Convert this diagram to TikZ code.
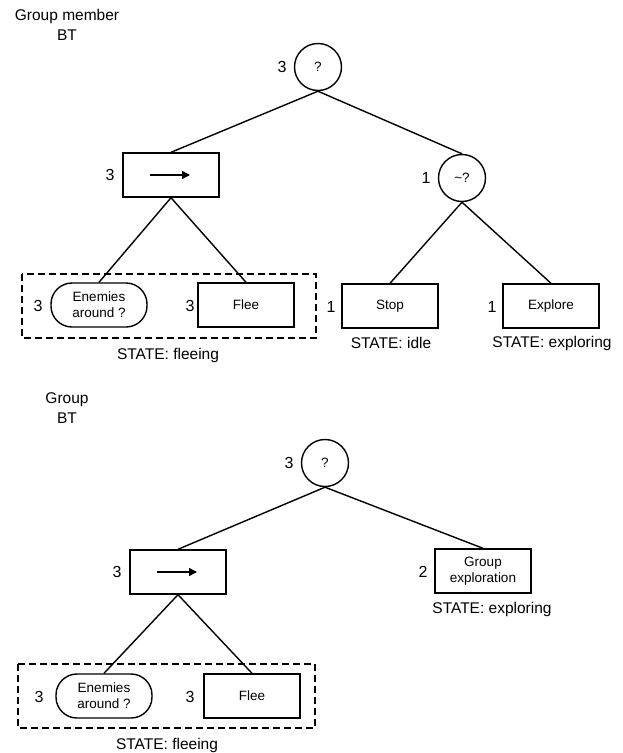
\documentclass[tikz,border=0pt]{standalone}
\usepackage{fontspec}
\setmainfont{Liberation Sans}
\usetikzlibrary{arrows.meta}

\tikzset{
  sel/.style={draw, circle, line width=1.4pt, minimum size=47pt, inner sep=0pt, font=\fontsize{13.5}{16}\selectfont},
  act/.style={draw, rectangle, line width=1.4pt, minimum width=96pt, minimum height=44pt, inner sep=0pt, align=center, font=\fontsize{13.5}{16}\selectfont},
  cnd/.style={act, rounded corners=21pt},
  prio/.style={font=\fontsize{16}{18}\selectfont, inner sep=0pt},
  state/.style={font=\fontsize{15.5}{18}\selectfont, inner sep=0pt},
  edge/.style={line width=1.4pt},
  grp/.style={draw, line width=1.2pt, dash pattern=on 7pt off 4pt}
}

\begin{document}
\begin{tikzpicture}[x=1pt, y=-1pt]
    \useasboundingbox (0,0) rectangle (622,753);

    % Group member tree
    \node [state, align=center] (titleA) at (67,25) {Group member\\[2pt]BT};
    \node [sel] (rootA) at (318,67) {?};
    \node [prio] (lrootA) at (282,67) {3};
    \node [act] (seqA) at (171,175) {};
    \node [prio] (lseqA) at (110,175) {3};
    \node [sel] (negA) at (462,178) {\textasciitilde ?};
    \node [prio] (lnegA) at (426,178) {1};
    \draw [grp] (22,274) rectangle (316,338);
    \node [cnd] (enemA) at (99,305) {Enemies\\around ?};
    \node [prio] (lenemA) at (38,306) {3};
    \node [act] (fleeA) at (246,305) {Flee};
    \node [prio] (lfleeA) at (190,306) {3};
    \node [act] (stopA) at (390,306) {Stop};
    \node [prio] (lstopA) at (331,307) {1};
    \node [act] (explA) at (551,306) {Explore};
    \node [prio] (lexplA) at (492,307) {1};
    \node [state] (sfleeA) at (168,355) {STATE: fleeing};
    \node [state] (sidleA) at (391,343) {STATE: idle};
    \node [state] (sexplA) at (552,343) {STATE: exploring};
    \draw [-{Triangle[length=8pt,width=8pt]}, line width=1.4pt] ([xshift=-21pt]seqA.center) -- ([xshift=19pt]seqA.center);
    \draw [edge] (rootA.south) -- (seqA.north);
    \draw [edge] (rootA.south) -- (negA.north);
    \draw [edge] (seqA.south) -- (enemA.north);
    \draw [edge] (seqA.south) -- (fleeA.north);
    \draw [edge] (negA.south) -- (stopA.north);
    \draw [edge] (negA.south) -- (explA.north);

    % Group tree
    \node [state, align=center] (titleB) at (67,408) {Group\\[2pt]BT};
    \node [sel] (rootB) at (325,463) {?};
    \node [prio] (lrootB) at (289,463) {3};
    \node [act] (seqB) at (178,572) {};
    \node [prio] (lseqB) at (117,572) {3};
    \node [act] (gexpB) at (483,571) {Group\\exploration};
    \node [prio] (lgexpB) at (423,572) {2};
    \node [state] (sexplB) at (492,609) {STATE: exploring};
    \draw [grp] (18,664) rectangle (315,728);
    \node [cnd] (enemB) at (104,696) {Enemies\\around ?};
    \node [prio] (lenemB) at (39,697) {3};
    \node [act] (fleeB) at (252,696) {Flee};
    \node [prio] (lfleeB) at (190,697) {3};
    \node [state] (sfleeB) at (167,745) {STATE: fleeing};
    \draw [-{Triangle[length=8pt,width=8pt]}, line width=1.4pt] ([xshift=-21pt]seqB.center) -- ([xshift=19pt]seqB.center);
    \draw [edge] (rootB.south) -- (seqB.north);
    \draw [edge] (rootB.south) -- (gexpB.north);
    \draw [edge] (seqB.south) -- (enemB.north);
    \draw [edge] (seqB.south) -- (fleeB.north);
\end{tikzpicture}
\end{document}
